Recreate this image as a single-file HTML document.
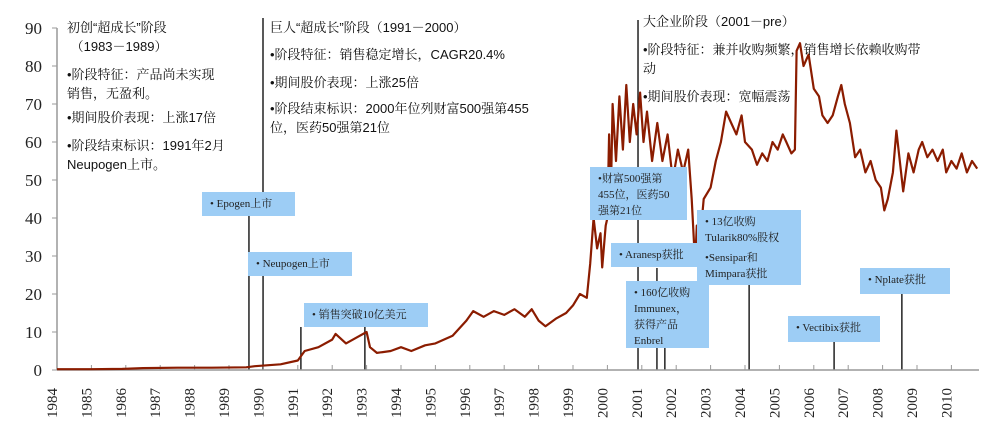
<!DOCTYPE html>
<html><head><meta charset="utf-8">
<style>
html,body{margin:0;padding:0;background:#fff;}
#wrap{position:relative;width:1000px;height:428px;overflow:hidden;}
.t{position:absolute;font-family:"Liberation Sans","Noto Serif CJK SC",serif;font-size:13px;color:#111;white-space:nowrap;line-height:19px;}
.box{position:absolute;background:#9dcdf5;font-family:"Liberation Serif","Noto Serif CJK SC",serif;font-size:11px;color:#222;line-height:16px;box-sizing:border-box;padding:4px 8px;}
svg{position:absolute;left:0;top:0;}
</style></head><body>
<div id="wrap">
<svg id="chart" width="1000" height="428"></svg>

<div class="t" style="left:67px;top:18px">初创“超成长”阶段<br>&nbsp;（1983－1989）</div>
<div class="t" style="left:67px;top:65px">•阶段特征：产品尚未实现<br>销售，无盈利。</div>
<div class="t" style="left:67px;top:108px">•期间股价表现：上涨17倍</div>
<div class="t" style="left:67px;top:136px">•阶段结束标识：1991年2月<br>Neupogen上市。</div>

<div class="t" style="left:270px;top:18px">巨人“超成长”阶段（1991－2000）</div>
<div class="t" style="left:270px;top:45px">•阶段特征：销售稳定增长，CAGR20.4%</div>
<div class="t" style="left:270px;top:73px">•期间股价表现：上涨25倍</div>
<div class="t" style="left:270px;top:99px">•阶段结束标识：2000年位列财富500强第455<br>位，医药50强第21位</div>

<div class="t" style="left:643px;top:12px">大企业阶段（2001－pre）</div>
<div class="t" style="left:643px;top:40px">•阶段特征：兼并收购频繁，销售增长依赖收购带<br>动</div>
<div class="t" style="left:643px;top:87px">•期间股价表现：宽幅震荡</div>

<div class="box" style="left:202px;top:192px;width:93px;height:24px">• Epogen上市</div>
<div class="box" style="left:248px;top:252px;width:104px;height:24px">• Neupogen上市</div>
<div class="box" style="left:304px;top:303px;width:124px;height:24px">• 销售突破10亿美元</div>
<div class="box" style="left:590px;top:167px;width:97px;height:53px">•财富500强第<br>455位，医药50<br>强第21位</div>
<div class="box" style="left:611px;top:243px;width:86px;height:24px">• Aranesp获批</div>
<div class="box" style="left:626px;top:281px;width:83px;height:67px">• 160亿收购<br>Immunex，<br>获得产品<br>Enbrel</div>
<div class="box" style="left:697px;top:210px;width:104px;height:75px">• 13亿收购<br>Tularik80%股权<br><span style="display:block;height:4px"></span>•Sensipar和<br>Mimpara获批</div>
<div class="box" style="left:788px;top:316px;width:92px;height:26px">• Vectibix获批</div>
<div class="box" style="left:860px;top:268px;width:90px;height:26px">• Nplate获批</div>
</div>
<script>
const yearLabels=[1984,1985,1986,1987,1988,1989,1990,1991,1992,1993,1994,1995,1996,1997,1998,1999,2000,2001,2002,2003,2004,2005,2006,2007,2008,2009,2010];
const yTicks=[0,10,20,30,40,50,60,70,80,90];
const dates=[1984.0,1985.0,1985.9,1986.5,1987.5,1988.5,1989.5,1989.75,1990.5,1991.0,1991.2,1991.6,1992.0,1992.1,1992.4,1992.7,1993.0,1993.1,1993.3,1993.7,1994.0,1994.3,1994.7,1995.0,1995.5,1995.9,1996.1,1996.4,1996.7,1997.0,1997.3,1997.6,1997.8,1998.0,1998.2,1998.5,1998.8,1999.0,1999.2,1999.4,1999.5,1999.6,1999.7,1999.8,1999.85,1999.95,2000.0,2000.05,2000.1,2000.15,2000.25,2000.35,2000.45,2000.55,2000.65,2000.75,2000.85,2000.95,2001.05,2001.15,2001.3,2001.45,2001.6,2001.75,2001.9,2002.05,2002.2,2002.35,2002.45,2002.55,2002.6,2002.7,2002.8,2003.0,2003.15,2003.3,2003.45,2003.6,2003.75,2003.9,2004.0,2004.2,2004.35,2004.5,2004.65,2004.8,2004.95,2005.1,2005.2,2005.35,2005.45,2005.5,2005.6,2005.7,2005.85,2006.0,2006.15,2006.25,2006.4,2006.55,2006.7,2006.8,2006.9,2007.05,2007.2,2007.35,2007.5,2007.65,2007.8,2007.95,2008.05,2008.15,2008.3,2008.4,2008.5,2008.6,2008.75,2008.9,2009.05,2009.15,2009.3,2009.45,2009.6,2009.75,2009.85,2010.0,2010.15,2010.3,2010.45,2010.6,2010.75];
const prices=[0.2,0.2,0.3,0.5,0.6,0.6,0.7,1.0,1.5,2.5,5,6,8,9.5,7,8.5,10,6,4.5,5,6,5,6.5,7,9,13,15.5,14,15.5,14.5,16,14,16,13,11.5,13.5,15,17,20,19,28,40,32,36,27,38,40,62,45,70,55,72,58,75,60,70,62,73,60,68,55,65,55,62,50,58,52,58,45,28,38,35,45,48,55,60,68,65,62,67,60,58,54,57,55,60,58,62,60,57,58,84,86,80,83,74,72,67,65,67,72,75,70,65,56,58,52,55,50,48,42,45,52,63,55,47,57,52,58,60,56,58,55,58,52,55,53,57,52,55,53];
const eventYears=[1989.58,1989.99,1991.09,1992.95,2000.89,2001.44,2001.67,2004.12,2006.59,2008.56];
const eventTops=[216,276,327,327,20,268,348,285,342,294];

const NS='http://www.w3.org/2000/svg';
const svg=document.getElementById('chart');
const X0=57,XS=34.4,Y0=370,YS=3.8;
const xs=y=>X0+(y-1984)*XS;
const ys=v=>Y0-v*YS;
function mk(tag,attrs){const e=document.createElementNS(NS,tag);for(const k in attrs)e.setAttribute(k,attrs[k]);svg.appendChild(e);return e;}

let el;
el=mk('line',{x1:263,y1:18,x2:263,y2:192,stroke:'#222','stroke-width':1.5});


eventYears.forEach((yr,i)=>{
  const l=mk('line',{x1:xs(yr),y1:eventTops[i],x2:xs(yr),y2:Y0,stroke:'#222','stroke-width':1.5});
  
  
});

el=mk('line',{x1:X0,y1:ys(90),x2:X0,y2:Y0,stroke:'#999','stroke-width':1.5});


el=mk('line',{x1:X0,y1:Y0,x2:979,y2:Y0,stroke:'#999','stroke-width':1.5});


yTicks.forEach(v=>{
  const t=mk('line',{x1:X0-5,y1:ys(v),x2:X0,y2:ys(v),stroke:'#999'});
  
  
  const tx=mk('text',{x:42,y:ys(v)+6,'text-anchor':'end','font-family':'Liberation Serif,serif','font-size':17,fill:'#222'});
  tx.textContent=v;
  
  
});
yearLabels.forEach(yr=>{
  const x=xs(yr);
  if(yr>1984){const t=mk('line',{x1:x,y1:Y0-5,x2:x,y2:Y0,stroke:'#999'});
  
  }
  const cx=x-4;
  const tx=mk('text',{x:cx,y:403,transform:`rotate(-90 ${cx} 403)`,'text-anchor':'middle','dominant-baseline':'central','font-family':'Liberation Serif,serif','font-size':15,fill:'#222'});
  tx.textContent=yr;
  
  
});

const d=dates.map((t,i)=>(i?'L':'M')+xs(t).toFixed(1)+' '+ys(prices[i]).toFixed(1)).join(' ');
el=mk('path',{d:d,fill:'none',stroke:'#8b1c00','stroke-width':2.2,'stroke-linejoin':'round'});


</script>
</body></html>
